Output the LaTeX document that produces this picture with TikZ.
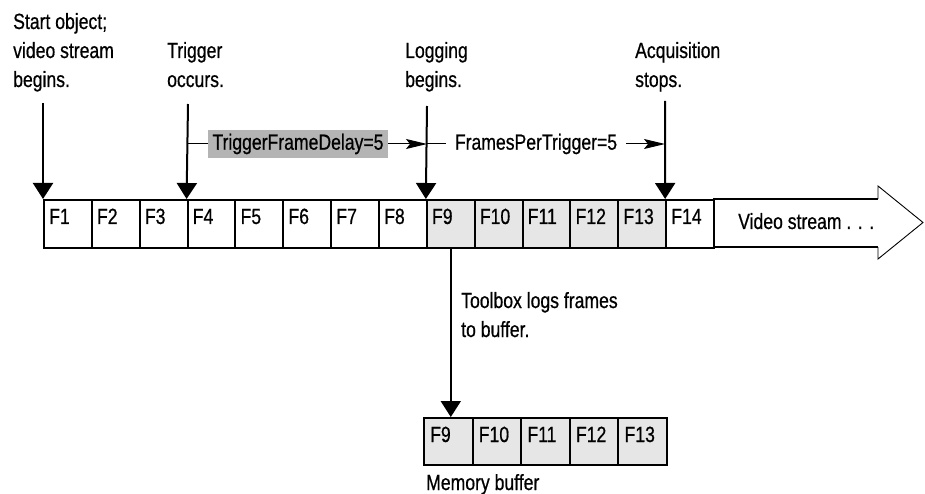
\documentclass[tikz,border=0pt]{standalone}
\usepackage{fontspec}
\setmainfont[FakeStretch=0.8,FakeBold=0.6]{Liberation Sans}
\usetikzlibrary{arrows.meta}
\definecolor{boxgray}{HTML}{B4B4B4}
\definecolor{logfill}{HTML}{E6E6E6}
\begin{document}
\begin{tikzpicture}[x=1pt,y=-1pt,
  font=\fontsize{22}{26}\selectfont,
  cell/.style={draw, line width=2pt, minimum width=47.86pt, minimum height=48pt, inner sep=0pt, anchor=north west},
  bcell/.style={draw, line width=2pt, fill=logfill, minimum width=48.6pt, minimum height=47pt, inner sep=0pt, anchor=north west},
  lbl/.style={anchor=base west, inner sep=0pt},
  varr/.style={line width=2pt, -{Triangle[width=20pt,length=16pt]}},
  harr/.style={line width=1pt, -{Stealth[width=10pt,length=21pt,inset=4pt]}},
  thinline/.style={line width=1pt}]
\useasboundingbox (0,0) rectangle (925,494);

% video stream arrow (drawn first, behind the frames)
\fill[white] (713,199) -- (878,199) -- (878,186) -- (923,222.5) -- (878,259) -- (878,247) -- (713,247) -- cycle;
\draw[line width=2pt] (713,199) -- (878,199) (713,247) -- (878,247);
\draw[line width=0.9pt] (878,199) -- (878,186) -- (923,222.5) -- (878,259) -- (878,247);
\node[lbl] (vs) at (738,229) {Video stream . . .};

% frames in the stream
\foreach \i in {1,...,14}{
  \pgfmathsetmacro{\xx}{43+(\i-1)*47.857}
  \ifnum\i>8 \ifnum\i<14
    \node[cell, fill=logfill] (f\i) at (\xx,199) {};
  \else
    \node[cell] (f\i) at (\xx,199) {};
  \fi\else
    \node[cell] (f\i) at (\xx,199) {};
  \fi
  \node[lbl] (t\i) at (\xx+6,224) {F\i};
}

% top labels
\node[lbl] (la1) at (13,29) {Start object;};
\node[lbl] (la2) at (13,58) {video stream};
\node[lbl] (la3) at (13,87) {begins.};
\node[lbl] (lb1) at (167,58) {Trigger};
\node[lbl] (lb2) at (167,87) {occurs.};
\node[lbl] (lc1) at (405,58) {Logging};
\node[lbl] (lc2) at (405,87) {begins.};
\node[lbl] (ld1) at (635,58) {Acquisition};
\node[lbl] (ld2) at (635,87) {stops.};

% vertical arrows
\coordinate (sA) at (43,103);
\coordinate (sB) at (188,104);
\coordinate (sC) at (427,106);
\coordinate (sD) at (665,101);
\draw[varr] (sA) -- (f1.north west);
\draw[varr] (sB) -- (f4.north west);
\draw[varr] (sC) -- (f9.north west);
\draw[varr] (sD) -- (f14.north west);

% dimension annotations
\coordinate (mB) at (188,144);
\coordinate (mC) at (427,144);
\coordinate (mD) at (665,144);
\node[fill=boxgray, inner sep=0pt, minimum width=180pt, minimum height=28pt] (tfd) at (298,144) {TriggerFrameDelay=5};
\draw[thinline] (mB) -- (tfd.west);
\draw[harr] (tfd.east) -- (mC);
\node[inner xsep=9pt, inner ysep=0pt] (fpt) at (536,144) {FramesPerTrigger=5};
\draw[thinline] (mC) -- (fpt.west);
\draw[harr] (fpt.east) -- (mD);

% memory buffer
\foreach \i [count=\k from 0] in {9,...,13}{
  \pgfmathsetmacro{\xx}{423+\k*48.6}
  \node[bcell] (b\i) at (\xx,417) {};
  \node[lbl] (u\i) at (\xx+7,442) {F\i};
}
\draw[varr] (f9.south) -- (f9.south |- b9.north);
\node[lbl] (tb1) at (461,308) {Toolbox logs frames};
\node[lbl] (tb2) at (461,337) {to buffer.};
\node[lbl] (mb) at (426,490) {Memory buffer};
\end{tikzpicture}
\end{document}
